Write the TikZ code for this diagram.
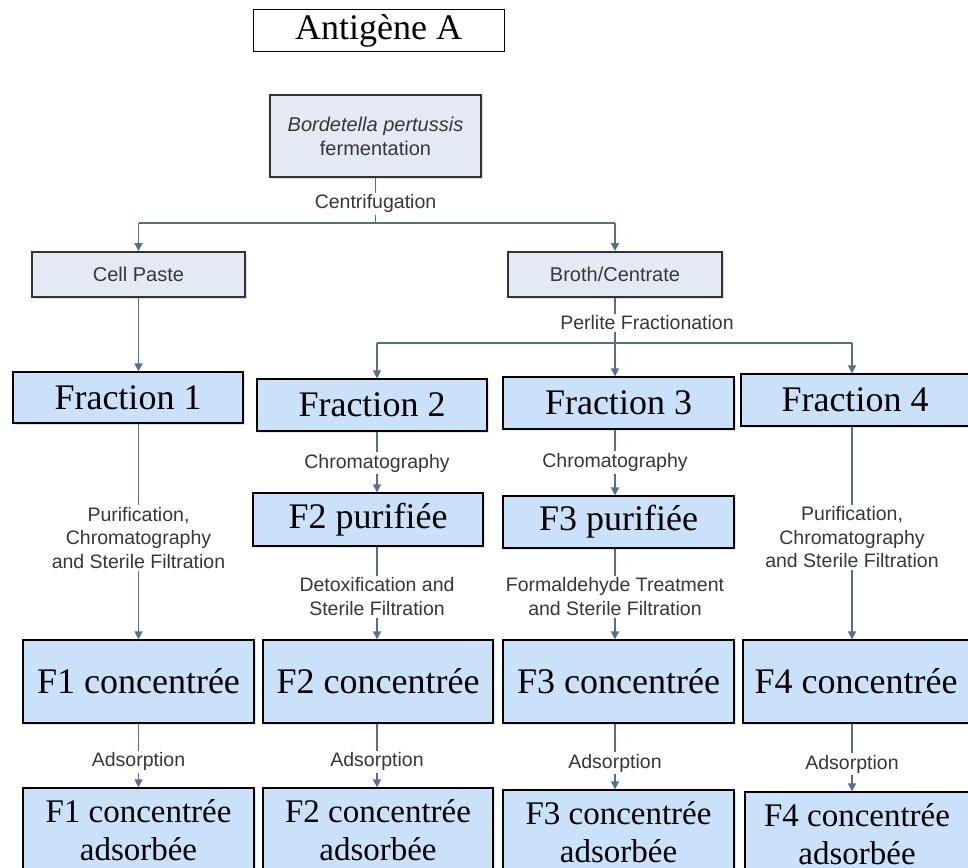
\documentclass[tikz,border=0pt]{standalone}
\usepackage{fontspec}
\setmainfont{Liberation Serif}
\newfontfamily\labelfont{Liberation Sans}
\usetikzlibrary{arrows.meta, shadows}

\definecolor{stepgray}{RGB}{228,234,244}
\definecolor{fracblue}{RGB}{201,226,249}
\definecolor{linkblue}{RGB}{85,110,150}
\definecolor{lbltext}{RGB}{55,55,55}

\tikzstyle{titlebox}=[rectangle, draw=black, line width=1pt, fill=white,
                      inner sep=0pt, font=\fontsize{36}{40}\selectfont]
\tikzstyle{stepbox}=[rectangle, draw=black!80, line width=2pt, fill=stepgray,
                     inner sep=0pt, align=center, text=lbltext,
                     drop shadow={shadow xshift=2pt, shadow yshift=-2pt, opacity=0.25},
                     font=\labelfont\fontsize{20}{24}\selectfont]
\tikzstyle{fracbox}=[rectangle, draw=black, line width=1.3pt, fill=fracblue,
                     inner sep=0pt, align=center,
                     drop shadow={shadow xshift=2pt, shadow yshift=-2pt, opacity=0.2},
                     font=\fontsize{36}{40}\selectfont]
\tikzstyle{adsbox}=[fracbox, font=\fontsize{33}{38}\selectfont]
\tikzstyle{lbl}=[fill=white, inner sep=2pt, align=center, text=lbltext,
                 font=\labelfont\fontsize{19.5}{23.5}\selectfont]
\tikzstyle{link}=[draw=linkblue, line width=1.6pt]

\begin{document}
\begin{tikzpicture}[x=1pt, y=-1pt, >={Triangle[length=8pt, width=8pt]}]

  \useasboundingbox (0, 0) rectangle (968, 867);

  \node (antigen) at (378.5, 31) [titlebox, minimum width=251, minimum height=42] {Antigène A};

  \node (ferment) at (375.5, 136) [stepbox, minimum width=211, minimum height=82]
        {\textit{Bordetella pertussis}\\fermentation};

  \node (cellpaste) at (138.5, 274.5) [stepbox, minimum width=213, minimum height=45] {Cell Paste};
  \node (broth) at (615, 274.5) [stepbox, minimum width=214, minimum height=45] {Broth/Centrate};

  % fractions
  \node (frac1) at (128, 397.5) [fracbox, minimum width=230, minimum height=51] {Fraction 1};
  \node (frac2) at (372, 405) [fracbox, minimum width=230, minimum height=52] {Fraction 2};
  \node (frac3) at (618.5, 403) [fracbox, minimum width=231, minimum height=52] {Fraction 3};
  \node (frac4) at (855, 400) [fracbox, minimum width=228, minimum height=52] {Fraction 4};

  \node (f2pur) at (368, 519.5) [fracbox, minimum width=230, minimum height=53] {F2 purifiée};
  \node (f3pur) at (618.5, 522) [fracbox, minimum width=231, minimum height=52] {F3 purifiée};

  \node (f1conc) at (138.5, 681.5) [fracbox, minimum width=231, minimum height=83] {F1 concentrée};
  \node (f2conc) at (378, 681.5) [fracbox, minimum width=230, minimum height=83] {F2 concentrée};
  \node (f3conc) at (618.5, 681.5) [fracbox, minimum width=231, minimum height=83] {F3 concentrée};
  \node (f4conc) at (856, 681.5) [fracbox, minimum width=226, minimum height=83] {F4 concentrée};

  \node (f1ads) at (138.5, 830) [adsbox, minimum width=231, minimum height=84] {F1 concentrée\\adsorbée};
  \node (f2ads) at (378, 830) [adsbox, minimum width=230, minimum height=84] {F2 concentrée\\adsorbée};
  \node (f3ads) at (618.5, 832) [adsbox, minimum width=231, minimum height=84] {F3 concentrée\\adsorbée};
  \node (f4ads) at (857, 834) [adsbox, minimum width=224, minimum height=84] {F4 concentrée\\adsorbée};

  %%%%%%%%%%%%%%%%%%%%%%%%%%%%%%
  % splits
  \coordinate (split1) at (375.5, 223);
  \coordinate (split2) at (615, 343);
  \coordinate (col2) at (377, 343);
  \coordinate (col4) at (852, 343);

  \draw [link] (ferment.south) -- node [lbl, pos=0.57] {Centrifugation} (split1);
  \draw [link] (cellpaste |- split1) -- (broth |- split1);
  \draw [link, ->] (cellpaste |- split1) -- (cellpaste.north);
  \draw [link, ->] (broth |- split1) -- (broth.north);

  \draw [link] (broth.south) -- (split2);
  \node (perlite) at (647, 323) [lbl] {Perlite Fractionation};
  \draw [link] (col2) -- (col4);
  \draw [link, ->] (col2) -- (col2 |- frac2.north);
  \draw [link, ->] (split2) -- (split2 |- frac3.north);
  \draw [link, ->] (col4) -- (col4 |- frac4.north);

  \draw [link, ->] (cellpaste.south) -- (cellpaste.south |- frac1.north);

  %%%%%%%%%%%%%%%%%%%%%%%%%%%%%%
  % columns
  \draw [link, ->] (f1conc.north |- frac1.south) -- node [lbl, pos=0.53]
        {Purification,\\Chromatography\\and Sterile Filtration} (f1conc.north);
  \draw [link, ->] (col2 |- frac2.south) -- node [lbl, pos=0.52] {Chromatography} (col2 |- f2pur.north);
  \draw [link, ->] (col2 |- f2pur.south) -- node [lbl, pos=0.54]
        {Detoxification and\\Sterile Filtration} (col2 |- f2conc.north);
  \draw [link, ->] (split2 |- frac3.south) -- node [lbl, pos=0.5] {Chromatography} (split2 |- f3pur.north);
  \draw [link, ->] (split2 |- f3pur.south) -- node [lbl, pos=0.53]
        {Formaldehyde Treatment\\and Sterile Filtration} (split2 |- f3conc.north);
  \draw [link, ->] (col4 |- frac4.south) -- node [lbl, pos=0.52]
        {Purification,\\Chromatography\\and Sterile Filtration} (col4 |- f4conc.north);

  % adsorption
  \draw [link, ->] (f1conc.south) -- node [lbl, pos=0.6] {Adsorption} (f1ads.north -| f1conc.south);
  \draw [link, ->] (col2 |- f2conc.south) -- node [lbl, pos=0.6] {Adsorption} (col2 |- f2ads.north);
  \draw [link, ->] (split2 |- f3conc.south) -- node [lbl, pos=0.6] {Adsorption} (split2 |- f3ads.north);
  \draw [link, ->] (col4 |- f4conc.south) -- node [lbl, pos=0.6] {Adsorption} (col4 |- f4ads.north);

\end{tikzpicture}
\end{document}
